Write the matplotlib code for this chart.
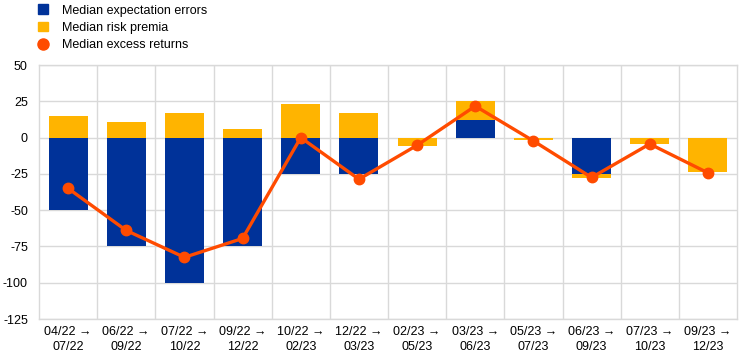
import matplotlib.pyplot as plt
from matplotlib.lines import Line2D
from matplotlib.patches import Patch
from matplotlib.ticker import FuncFormatter
import numpy as np

plt.rcParams['font.family'] = ['Liberation Sans', 'DejaVu Sans']

periods = ["04/22 \u2192\n07/22", "06/22 \u2192\n09/22", "07/22 \u2192\n10/22", "09/22 \u2192\n12/22",
           "10/22 \u2192\n02/23", "12/22 \u2192\n03/23", "02/23 \u2192\n05/23", "03/23 \u2192\n06/23",
           "05/23 \u2192\n07/23", "06/23 \u2192\n09/23", "07/23 \u2192\n10/23", "09/23 \u2192\n12/23"]
expectation_errors = [-50, -75, -100, -75, -25, -25, 0, 12, 0, -25, 0, 0]
risk_premia = [14.7, 10.8, 17, 5.7, 23.2, 16.7, -5.5, 13, -1.5, -3, -4.3, -24]
excess_returns = [-35, -64, -82.5, -69.5, 0, -28.7, -5.3, 21.7, -2.3, -27.5, -4.4, -24.3]

blue = '#003299'
yellow = '#FFB400'
orange = '#FF4B00'
grid = '#D9D9D9'

fig = plt.figure(figsize=(7.42, 3.59), dpi=100)
ax = fig.add_axes([39 / 742, 1 - 319 / 359, 698 / 742, 254 / 359])

x = np.arange(len(periods))
ee = np.array(expectation_errors)
rp = np.array(risk_premia)
bottom = np.where(np.sign(ee) == np.sign(rp), ee, 0)

ax.bar(x, ee, width=0.67, color=blue, zorder=2)
ax.bar(x, rp, bottom=bottom, width=0.67, color=yellow, zorder=2)
ax.plot(x, excess_returns, color=orange, lw=2.4, marker='o', ms=7.5, zorder=3)

ax.set_xlim(-0.5, len(periods) - 0.5)
ax.set_ylim(-125, 50)
ax.set_yticks(np.arange(-125, 51, 25))
ax.yaxis.set_major_formatter(FuncFormatter(lambda v, p: f"{v:.0f}"))
ax.set_xticks(x)
ax.set_xticklabels(periods, fontsize=9, linespacing=1.3)
ax.set_xticks(np.arange(0.5, len(periods) - 1, 1), minor=True)
ax.tick_params(axis='y', labelsize=9, length=0, pad=8)
ax.tick_params(axis='x', which='both', length=0, pad=5)
ax.grid(axis='y', color=grid, lw=1, zorder=0)
ax.grid(axis='x', which='minor', color=grid, lw=1, zorder=0)
for s in ax.spines.values():
    s.set_color(grid)
    s.set_linewidth(1)

handles = [Patch(color=blue, label='Median expectation errors'),
           Patch(color=yellow, label='Median risk premia'),
           Line2D([], [], color=orange, marker='o', ls='none', ms=8, label='Median excess returns')]
fig.legend(handles=handles, loc='upper left', bbox_to_anchor=(0.04, 1.012), frameon=False,
           fontsize=9, handlelength=0.8, handleheight=0.8, handletextpad=1.1, labelspacing=0.42,
           borderpad=0.2)

fig.savefig('out.png', dpi=100)
